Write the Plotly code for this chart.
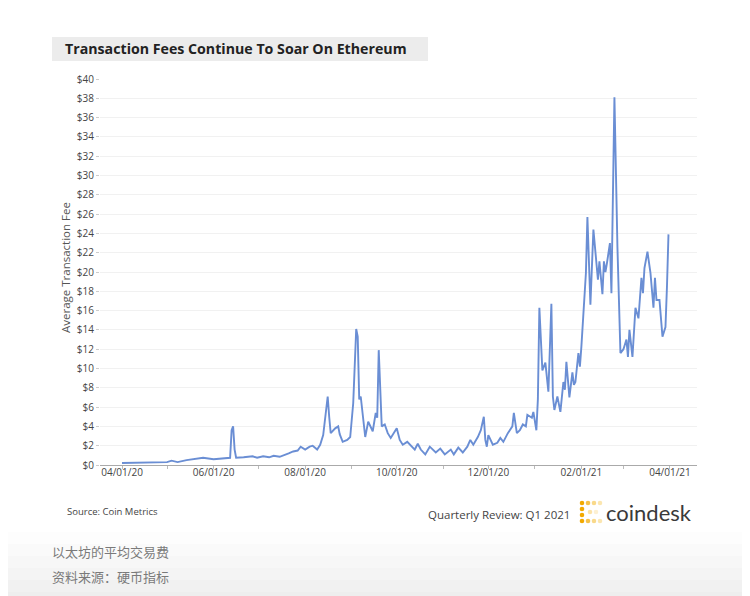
import plotly.graph_objects as go

# ---- data ----
dates = [
    "2020-04-01", "2020-04-10", "2020-04-20", "2020-05-01", "2020-05-04", "2020-05-08",
    "2020-05-14", "2020-05-18", "2020-05-23", "2020-05-25", "2020-06-01", "2020-06-07",
    "2020-06-12", "2020-06-13", "2020-06-14", "2020-06-15", "2020-06-16", "2020-06-21",
    "2020-06-27", "2020-06-30", "2020-07-04", "2020-07-08", "2020-07-11", "2020-07-15",
    "2020-07-18", "2020-07-21", "2020-07-24", "2020-07-27", "2020-07-29", "2020-08-01",
    "2020-08-04", "2020-08-06", "2020-08-09", "2020-08-11", "2020-08-13", "2020-08-15",
    "2020-08-16", "2020-08-17", "2020-08-18", "2020-08-21", "2020-08-23", "2020-08-24",
    "2020-08-26", "2020-08-29", "2020-08-31", "2020-09-02", "2020-09-03", "2020-09-04",
    "2020-09-05", "2020-09-06", "2020-09-07", "2020-09-09", "2020-09-10", "2020-09-12",
    "2020-09-15", "2020-09-17", "2020-09-18", "2020-09-19", "2020-09-20", "2020-09-21",
    "2020-09-23", "2020-09-25", "2020-09-27", "2020-10-01", "2020-10-03", "2020-10-05",
    "2020-10-08", "2020-10-11", "2020-10-13", "2020-10-15", "2020-10-17", "2020-10-20",
    "2020-10-23", "2020-10-27", "2020-10-30", "2020-11-02", "2020-11-06", "2020-11-08",
    "2020-11-11", "2020-11-14", "2020-11-17", "2020-11-19", "2020-11-21", "2020-11-24",
    "2020-11-26", "2020-11-28", "2020-11-29", "2020-11-30", "2020-12-01", "2020-12-04",
    "2020-12-07", "2020-12-09", "2020-12-11", "2020-12-14", "2020-12-17", "2020-12-18",
    "2020-12-20", "2020-12-22", "2020-12-24", "2020-12-26", "2020-12-27", "2020-12-30",
    "2020-12-31", "2021-01-02", "2021-01-03", "2021-01-04", "2021-01-06", "2021-01-08",
    "2021-01-10", "2021-01-12", "2021-01-13", "2021-01-14", "2021-01-16", "2021-01-18",
    "2021-01-20", "2021-01-21", "2021-01-22", "2021-01-24", "2021-01-26", "2021-01-27",
    "2021-01-28", "2021-01-30", "2021-01-31", "2021-02-01", "2021-02-03", "2021-02-04",
    "2021-02-05", "2021-02-07", "2021-02-09", "2021-02-11", "2021-02-12", "2021-02-13",
    "2021-02-15", "2021-02-16", "2021-02-17", "2021-02-18", "2021-02-20", "2021-02-21",
    "2021-02-22", "2021-02-23", "2021-02-25", "2021-02-26", "2021-02-27", "2021-03-01",
    "2021-03-03", "2021-03-04", "2021-03-05", "2021-03-07", "2021-03-09", "2021-03-11",
    "2021-03-13", "2021-03-14", "2021-03-15", "2021-03-17", "2021-03-19", "2021-03-21",
    "2021-03-22", "2021-03-23", "2021-03-25", "2021-03-27", "2021-03-29", "2021-03-30",
    "2021-03-31",
]
fees = [
    0.2, 0.25, 0.3, 0.3, 0.45, 0.3,
    0.5, 0.6, 0.65, 0.75, 0.6, 0.7,
    0.75, 3.6, 4.0, 1.6, 0.75, 0.8,
    0.9, 0.75, 0.9, 0.8, 0.95, 0.85,
    1.0, 1.2, 1.4, 1.5, 1.9, 1.6,
    1.9, 2.0, 1.6, 2.1, 3.1, 5.5,
    7.1, 5.0, 3.3, 3.8, 4.0, 3.2,
    2.4, 2.6, 2.9, 6.4, 11.0, 14.1,
    13.3, 6.8, 7.1, 4.0, 2.9, 4.5,
    3.5, 5.4, 4.9, 11.9, 7.0, 4.0,
    4.2, 3.3, 2.8, 3.8, 2.6, 2.1,
    2.4, 1.9, 1.6, 2.2, 1.6, 1.1,
    1.9, 1.3, 1.7, 1.1, 1.6, 1.1,
    1.8, 1.3, 1.9, 2.6, 2.1, 2.9,
    3.6, 5.0, 2.6, 1.9, 3.1, 2.1,
    2.3, 2.8, 2.4, 3.3, 4.0, 5.4,
    3.3, 3.6, 4.2, 4.0, 5.2, 4.9,
    5.5, 3.6, 6.8, 16.3, 9.8, 10.6,
    7.6, 16.7, 7.1, 5.7, 7.1, 5.5,
    8.6, 7.8, 10.7, 7.0, 9.6, 8.3,
    8.6, 11.6, 10.2, 12.3, 17.1, 19.9,
    25.7, 16.6, 24.4, 20.7, 19.2, 21.1,
    17.7, 21.1, 20.0, 20.9, 23.0, 17.8,
    26.8, 38.1, 22.6, 15.4, 11.6, 12.0,
    13.0, 11.2, 14.0, 11.2, 16.3, 15.2,
    19.4, 17.8, 20.4, 22.1, 19.9, 16.3,
    19.4, 17.1, 17.1, 13.3, 14.3, 18.5,
    23.9,
]
y_tick_vals = list(range(0, 42, 2))
y_tick_text = ["$" + str(v) for v in y_tick_vals]
title_text = "Transaction Fees Continue To Soar On Ethereum"
y_title = "Average Transaction Fee"
source_text = "Source: Coin Metrics"
review_text = "Quarterly Review: Q1 2021"
brand_text = "coindesk"
cn_line1 = "以太坊的平均交易费"
cn_line2 = "资料来源：硬币指标"

# ---- layout geometry (screen pixels; page body has an 8px margin) ----
OFF = 8
W, H = 750 - OFF, 596 - OFF
L, R, T, B = 100, 697, 79, 465
PW, PH = R - L, B - T


def px(x):
    return (x - L) / PW


def py(y):
    return (B - y) / PH


fig = go.Figure()
fig.add_trace(go.Scatter(
    x=dates, y=fees, mode="lines",
    line=dict(color="#6a8ed4", width=1.9),
    hoverinfo="x+y", showlegend=False,
))

shapes = []
# bottom grey gradient band
bands = ["#fdfdfd", "#fafafa", "#f7f7f7", "#f4f4f4", "#f1f1f1", "#eeeeee"]
top = 532
step = (604 - top) / len(bands)
for i, c in enumerate(bands):
    shapes.append(dict(type="rect", xref="paper", yref="paper",
                       x0=px(0), x1=px(760), y0=py(top + step * (i + 1)), y1=py(top + step * i),
                       fillcolor=c, line=dict(width=0), layer="below"))
# title box
shapes.append(dict(type="rect", xref="paper", yref="paper",
                   x0=px(52), x1=px(428), y0=py(61), y1=py(37),
                   fillcolor="#ececec", line=dict(width=0), layer="below"))
# coindesk logo icon: bracket of dots
logo_dots = [
    (582, 503, "#f2a900"), (588, 503, "#f6c24a"), (594, 503, "#f9d98a"), (600, 503, "#fbe6b0"),
    (582, 509, "#f2a900"), (582, 515, "#f2a900"),
    (582, 521, "#f2a900"), (588, 521, "#f6c24a"), (594, 521, "#f9d98a"), (600, 521, "#fbe6b0"),
    (590, 512, "#fbe3a8"), (596, 512, "#fdf0d2"),
]
for (cx, cy, c) in logo_dots:
    shapes.append(dict(type="circle", xref="paper", yref="paper",
                       x0=px(cx - 2.3), x1=px(cx + 2.3), y0=py(cy + 2.3), y1=py(cy - 2.3),
                       fillcolor=c, line=dict(width=0)))

annotations = [
    dict(text="<b>" + title_text + "</b>", xref="paper", yref="paper",
         x=px(63), y=py(49), xanchor="left", yanchor="middle", showarrow=False,
         font=dict(family="Open Sans", size=14.2, color="#222222")),
    dict(text=y_title, xref="paper", yref="paper", x=px(65), y=py(268),
         xanchor="center", yanchor="middle", textangle=-90, showarrow=False,
         font=dict(family="Open Sans", size=11.5, color="#555555")),
    dict(text=source_text, xref="paper", yref="paper", x=px(65), y=py(511),
         xanchor="left", yanchor="middle", showarrow=False,
         font=dict(family="Open Sans", size=9.5, color="#444444")),
    dict(text=review_text, xref="paper", yref="paper", x=px(572), y=py(514),
         xanchor="right", yanchor="middle", showarrow=False,
         font=dict(family="Open Sans", size=11.5, color="#444444")),
    dict(text=brand_text, xref="paper", yref="paper", x=px(604), y=py(512),
         xanchor="left", yanchor="middle", showarrow=False,
         font=dict(family="Lato", size=22, color="#3a3a3a")),
    dict(text=cn_line1, xref="paper", yref="paper", x=px(50), y=py(551),
         xanchor="left", yanchor="middle", showarrow=False,
         font=dict(family="Noto Sans CJK SC", size=13, color="#7a7a7a")),
    dict(text=cn_line2, xref="paper", yref="paper", x=px(50), y=py(576),
         xanchor="left", yanchor="middle", showarrow=False,
         font=dict(family="Noto Sans CJK SC", size=13, color="#7a7a7a")),
]

fig.update_layout(
    width=W, height=H,
    margin=dict(l=L - OFF, r=W - (R - OFF), t=T - OFF, b=H - (B - OFF), pad=0),
    paper_bgcolor="white", plot_bgcolor="white",
    shapes=shapes, annotations=annotations,
    xaxis=dict(
        range=["2020-03-17 08:00", "2021-04-19"],
        tickformat="%m/%d/%y", dtick="M2", tick0="2020-04-01",
        ticks="outside", ticklen=3, tickcolor="#bbbbbb",
        minor=dict(dtick="M1", ticks="outside", ticklen=3, tickcolor="#bbbbbb", showgrid=False),
        showgrid=False, showline=True, linecolor="#aaaaaa", linewidth=1,
        tickfont=dict(family="Open Sans", size=10, color="#444444"),
        ticklabelstandoff=-5,
        zeroline=False, fixedrange=True,
    ),
    yaxis=dict(
        range=[0, 40], tickvals=y_tick_vals, ticktext=y_tick_text,
        ticks="outside", ticklen=3, tickcolor="#cccccc",
        showgrid=True, gridcolor="#f1f1f1", gridwidth=1,
        showline=False, zeroline=False,
        tickfont=dict(family="Open Sans", size=10, color="#444444"),
        fixedrange=True,
    ),
)

fig.write_html("out.html")
